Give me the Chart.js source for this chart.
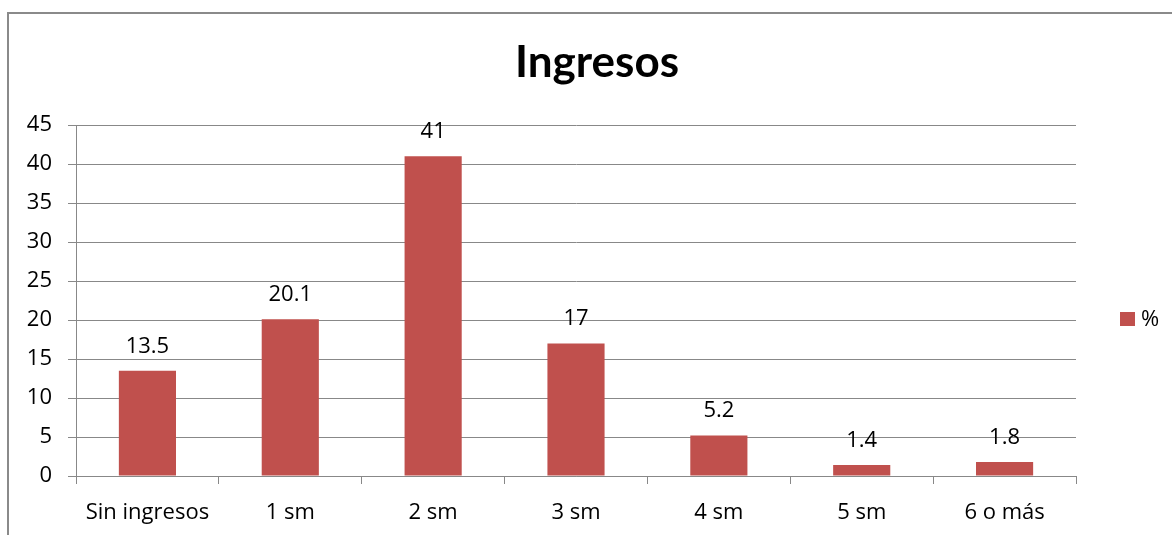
<!DOCTYPE html>
<html>
<head>
<meta charset="utf-8">
<script src="https://cdn.jsdelivr.net/npm/chart.js@4/dist/chart.umd.min.js"></script>
<style>
  html, body { margin: 0; padding: 0; background: #fff; overflow: hidden; }
  #wrap { position: relative; width: 1172px; height: 535px; }
</style>
</head>
<body>
<div id="wrap"><canvas id="ingresosChart" width="1172" height="535"></canvas></div>
<script>
const categorias = ['Sin ingresos', '1 sm', '2 sm', '3 sm', '4 sm', '5 sm', '6 o más'];
const porcentajes = [13.5, 20.1, 41, 17, 5.2, 1.4, 1.8];
const serieNombre = '%';
const titulo = 'Ingresos';

const FONT = '"Open Sans", Lato, sans-serif';
const TITLE_FONT = 'Lato, "Open Sans", sans-serif';
const BAR_COLOR = '#C0504D';

// marco, titulo, leyenda y etiquetas de valores
const extras = {
    id: 'extras',
    beforeDraw(chart) {
        const c = chart.ctx;
        c.save();
        c.fillStyle = '#fff';
        c.fillRect(0, 0, chart.width, chart.height);
        c.strokeStyle = '#8a8a8a';
        c.lineWidth = 2;
        c.strokeRect(8, 13, 1200, 600);
        c.restore();
    },
    afterDatasetsDraw(chart) {
        const c = chart.ctx;
        c.save();
        // titulo
        c.fillStyle = '#000';
        c.font = 'bold 44px ' + TITLE_FONT;
        c.textAlign = 'center';
        c.textBaseline = 'middle';
        c.fillText(titulo, 597, 63);

        // valores sobre las barras
        c.font = '22px ' + FONT;
        c.textBaseline = 'alphabetic';
        const meta = chart.getDatasetMeta(0);
        meta.data.forEach((bar, i) => {
            c.fillText(String(porcentajes[i]), bar.x, bar.y - 18);
        });

        // leyenda
        const ds = chart.data.datasets[0];
        c.fillStyle = ds.backgroundColor;
        c.fillRect(1120, 312, 15, 14);
        c.fillStyle = '#000';
        c.textAlign = 'left';
        c.textBaseline = 'middle';
        c.font = '22px ' + FONT;
        c.fillText(ds.label, 1141, 320);
        c.restore();
    }
};

const ctx = document.getElementById('ingresosChart').getContext('2d');
new Chart(ctx, {
    type: 'bar',
    data: {
        labels: categorias,
        datasets: [{
            label: serieNombre,
            data: porcentajes,
            backgroundColor: BAR_COLOR,
            barPercentage: 0.4,
            categoryPercentage: 1.0
        }]
    },
    options: {
        responsive: false,
        animation: false,
        layout: { padding: { top: 125, right: 96, bottom: 0, left: 0 } },
        plugins: {
            legend: { display: false },
            title: { display: false },
            tooltip: { enabled: false }
        },
        scales: {
            y: {
                min: 0,
                max: 45,
                ticks: {
                    stepSize: 5,
                    color: '#000',
                    padding: 16,
                    font: { family: FONT, size: 22 }
                },
                grid: { color: '#888', lineWidth: 1, tickLength: 8 },
                border: { color: '#888', width: 1 },
                afterFit(scale) { scale.width = 76; }
            },
            x: {
                ticks: {
                    color: '#000',
                    padding: 16,
                    font: { family: FONT, size: 22 }
                },
                grid: { drawOnChartArea: false, drawTicks: true, tickLength: 8, color: '#888' },
                border: { color: '#888', width: 1 },
                afterFit(scale) { scale.height = 59; }
            }
        }
    },
    plugins: [extras]
});
</script>
</body>
</html>
